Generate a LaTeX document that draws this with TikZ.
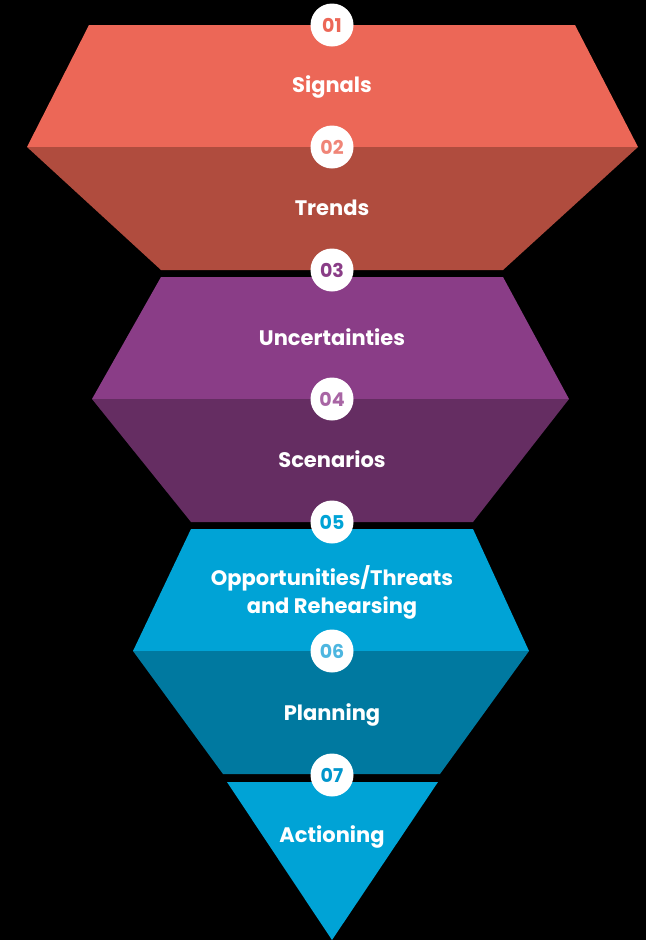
\documentclass[tikz,border=0pt]{standalone}
\usepackage{fontspec}
\setmainfont{Poppins}
\usepackage{tikz}
\definecolor{sigred}{HTML}{EC6757}
\definecolor{trendred}{HTML}{B04C3E}
\definecolor{numred}{HTML}{F08577}
\definecolor{uncpurple}{HTML}{8A3D87}
\definecolor{scenpurple}{HTML}{652D62}
\definecolor{numpurple}{HTML}{A865A4}
\definecolor{oppblue}{HTML}{00A3D6}
\definecolor{planblue}{HTML}{0079A0}
\definecolor{numblue}{HTML}{4DB6E0}
\definecolor{actblue}{HTML}{0096CC}
\tikzstyle{badge} = [circle, fill=white, minimum size=43pt, inner sep=0pt, font=\fontsize{19}{19}\selectfont\bfseries]
\tikzstyle{stage} = [text=white, anchor=base, align=center, font=\fontsize{21}{28}\selectfont\bfseries]

\begin{document}
\begin{tikzpicture}[x=1pt, y=-1pt]
        \fill[black] (0,0) rectangle (646,940);

            % Funnel layers
        \fill[sigred] (89,25) -- (575,25) -- (638,147) -- (27,147) -- cycle;
        \fill[trendred] (27,147) -- (638,147) -- (503,270) -- (161,270) -- cycle;
        \fill[uncpurple] (161,277) -- (503,277) -- (569,399) -- (92,399) -- cycle;
        \fill[scenpurple] (92,399) -- (569,399) -- (473,522) -- (191,522) -- cycle;
        \fill[oppblue] (191,529) -- (473,529) -- (529,651) -- (133,651) -- cycle;
        \fill[planblue] (133,651) -- (529,651) -- (440,774) -- (223,774) -- cycle;
        \fill[oppblue] (227,782) -- (438,782) -- (332,940) -- cycle;

            % Step numbers
        \node (num1) [badge, text=sigred] at (332,25) {01};
        \node (num2) [badge, text=numred] at (332,147) {02};
        \node (num3) [badge, text=uncpurple] at (332,270) {03};
        \node (num4) [badge, text=numpurple] at (332,399) {04};
        \node (num5) [badge, text=oppblue] at (332,522) {05};
        \node (num6) [badge, text=numblue] at (332,651) {06};
        \node (num7) [badge, text=actblue] at (332,775) {07};

            % Step names
        \node (signals) [stage] at (332,92) {Signals};
        \node (trends) [stage] at (332,215) {Trends};
        \node (uncert) [stage] at (332,345) {Uncertainties};
        \node (scen) [stage] at (332,467) {Scenarios};
        \node (opp) [stage] at (332,613) {Opportunities/Threats\\and Rehearsing};
        \node (plan) [stage] at (332,720) {Planning};
        \node (act) [stage] at (332,842) {Actioning};
    \end{tikzpicture}
\end{document}
